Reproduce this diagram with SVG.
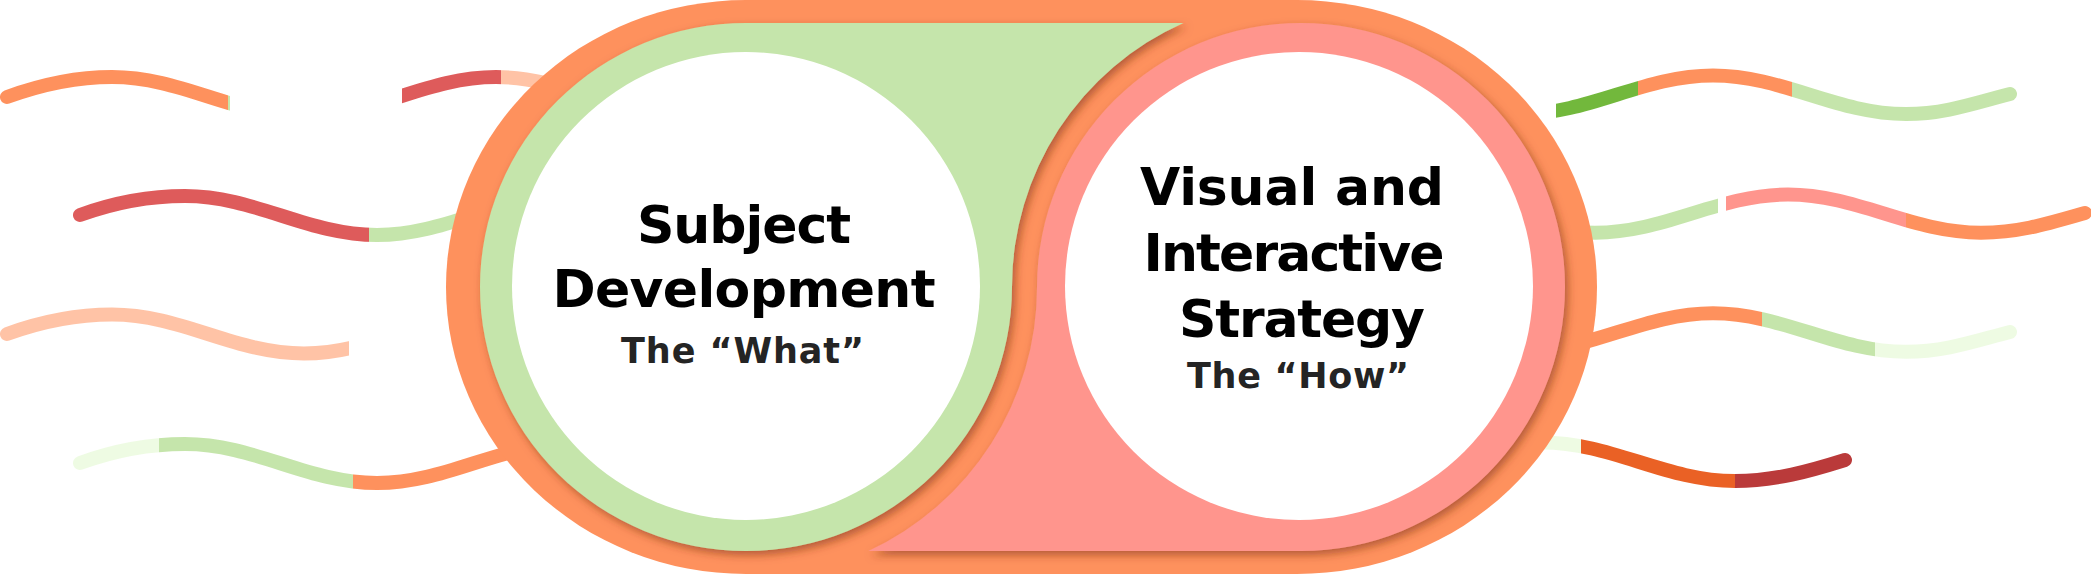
<svg xmlns="http://www.w3.org/2000/svg" width="2091" height="582" viewBox="0 0 2091 582">
<style>
.wave{fill:none;stroke-width:14;stroke-linecap:round}
.frame{fill:#FE915D}
.green{fill:#C5E5AB}
.pink{fill:#FF958D}
.hole{fill:#FFFFFF}
.t{font-family:"DejaVu Sans","Liberation Sans",sans-serif;font-weight:bold;text-anchor:middle;fill:#000}
.big{font-size:52px}
.sub{font-size:35px;fill:#242424}
</style>
<defs>
<filter id="sh" x="-10%" y="-10%" width="125%" height="125%">
<feDropShadow dx="3" dy="4" stdDeviation="4" flood-color="#7a3315" flood-opacity="0.55"/>
</filter>
<linearGradient id="gL1" gradientUnits="userSpaceOnUse" x1="0" y1="0" x2="2000" y2="0">
<stop offset="0" stop-color="#FE915D"/><stop offset="0.11385" stop-color="#FE915D"/>
<stop offset="0.11385" stop-color="#C5E5AB"/><stop offset="0.11495" stop-color="#C5E5AB"/>
<stop offset="0.11495" stop-color="#fff" stop-opacity="0"/><stop offset="0.2009" stop-color="#fff" stop-opacity="0"/>
<stop offset="0.2009" stop-color="#DE5B5B"/><stop offset="0.25045" stop-color="#DE5B5B"/>
<stop offset="0.25045" stop-color="#FFC3A6"/><stop offset="1" stop-color="#FFC3A6"/>
</linearGradient>
<linearGradient id="gL2" gradientUnits="userSpaceOnUse" x1="0" y1="0" x2="2000" y2="0">
<stop offset="0" stop-color="#DE5B5B"/><stop offset="0.1845" stop-color="#DE5B5B"/>
<stop offset="0.1845" stop-color="#C5E5AB"/><stop offset="1" stop-color="#C5E5AB"/>
</linearGradient>
<linearGradient id="gL3" gradientUnits="userSpaceOnUse" x1="0" y1="0" x2="2000" y2="0">
<stop offset="0" stop-color="#FFC3A6"/><stop offset="0.1745" stop-color="#FFC3A6"/>
<stop offset="0.1745" stop-color="#fff" stop-opacity="0"/><stop offset="1" stop-color="#fff" stop-opacity="0"/>
</linearGradient>
<linearGradient id="gL4" gradientUnits="userSpaceOnUse" x1="0" y1="0" x2="2000" y2="0">
<stop offset="0" stop-color="#EEFBE3"/><stop offset="0.07925" stop-color="#EEFBE3"/>
<stop offset="0.07925" stop-color="#C5E5AB"/><stop offset="0.17635" stop-color="#C5E5AB"/>
<stop offset="0.17635" stop-color="#FE915D"/><stop offset="1" stop-color="#FE915D"/>
</linearGradient>
<linearGradient id="gR1" gradientUnits="userSpaceOnUse" x1="0" y1="0" x2="2000" y2="0">
<stop offset="0" stop-color="#fff" stop-opacity="0"/><stop offset="0.77825" stop-color="#fff" stop-opacity="0"/>
<stop offset="0.77825" stop-color="#72B83C"/><stop offset="0.819" stop-color="#72B83C"/>
<stop offset="0.819" stop-color="#FE915D"/><stop offset="0.896" stop-color="#FE915D"/>
<stop offset="0.896" stop-color="#C5E5AB"/><stop offset="1" stop-color="#C5E5AB"/>
</linearGradient>
<linearGradient id="gR2" gradientUnits="userSpaceOnUse" x1="0" y1="0" x2="2000" y2="0">
<stop offset="0" stop-color="#C5E5AB"/><stop offset="0.859" stop-color="#C5E5AB"/>
<stop offset="0.859" stop-color="#fff" stop-opacity="0"/><stop offset="0.863" stop-color="#fff" stop-opacity="0"/>
<stop offset="0.863" stop-color="#FF958D"/><stop offset="0.953" stop-color="#FF958D"/>
<stop offset="0.953" stop-color="#FE915D"/><stop offset="1" stop-color="#FE915D"/>
</linearGradient>
<linearGradient id="gR3" gradientUnits="userSpaceOnUse" x1="0" y1="0" x2="2000" y2="0">
<stop offset="0" stop-color="#FE915D"/><stop offset="0.881" stop-color="#FE915D"/>
<stop offset="0.881" stop-color="#C5E5AB"/><stop offset="0.9375" stop-color="#C5E5AB"/>
<stop offset="0.9375" stop-color="#EEFBE3"/><stop offset="1" stop-color="#EEFBE3"/>
</linearGradient>
<linearGradient id="gR4" gradientUnits="userSpaceOnUse" x1="0" y1="0" x2="2000" y2="0">
<stop offset="0" stop-color="#EEFBE3"/><stop offset="0.7905" stop-color="#EEFBE3"/>
<stop offset="0.7905" stop-color="#EA6125"/><stop offset="0.8675" stop-color="#EA6125"/>
<stop offset="0.8675" stop-color="#BA3A3A"/><stop offset="1" stop-color="#BA3A3A"/>
</linearGradient>
</defs>

<g id="connectors">
<path class="wave" stroke="url(#gL1)" d="M 7 97 C 40 85, 75 77, 112 77 C 182 77, 234 116, 304 116 C 374 116, 426 77, 496 77 C 566 77, 618 116, 688 116"/>
<path class="wave" stroke="url(#gL2)" d="M 80 215 C 113 203, 148 196, 185 196 C 255 196, 307 235, 377 235 C 447 235, 499 196, 569 196"/>
<path class="wave" stroke="url(#gL3)" d="M 7 334 C 40 322, 75 314.5, 112 314.5 C 182 314.5, 234 353.5, 304 353.5 C 374 353.5, 426 314.5, 496 314.5"/>
<path class="wave" stroke="url(#gL4)" d="M 80 463 C 113 451, 148 444, 185 444 C 255 444, 307 483, 377 483 C 447 483, 499 444, 569 444"/>
<path class="wave" stroke="url(#gR1)" d="M 1520 114 C 1590 114, 1643 75.5, 1713 75.5 C 1783 75.5, 1836 114, 1906 114 C 1945 114, 1975 103, 2010 94"/>
<path class="wave" stroke="url(#gR2)" d="M 1402 194.5 C 1472 194.5, 1525 232.7, 1595 232.7 C 1665 232.7, 1718 194.5, 1788 194.5 C 1858 194.5, 1911 232.7, 1981 232.7 C 2020 232.7, 2050 223, 2085 213"/>
<path class="wave" stroke="url(#gR3)" d="M 1520 351.8 C 1590 351.8, 1643 313.3, 1713 313.3 C 1783 313.3, 1836 351.8, 1906 351.8 C 1945 351.8, 1975 341, 2010 332"/>
<path class="wave" stroke="url(#gR4)" d="M 1349 481 C 1419 481, 1472 442.5, 1542 442.5 C 1612 442.5, 1665 481, 1735 481 C 1775 481, 1810 471, 1845 460"/>
</g>

<g id="frame">
<rect class="frame" x="446" y="0" width="1151" height="574" rx="300" ry="287"/>
</g>

<g id="node-how">
<path class="pink" filter="url(#sh)" d="M 1301 23 A 264 264 0 0 1 1301 551 H 868.4 A 291 291 0 0 0 1037 287 A 264 264 0 0 1 1301 23 Z"/>
<circle class="hole" cx="1299" cy="286" r="234"/>
<text class="t big" x="1292" y="205" textLength="304" lengthAdjust="spacing">Visual and</text>
<text class="t big" x="1294" y="271" textLength="301" lengthAdjust="spacing">Interactive</text>
<text class="t big" x="1302" y="337" textLength="246" lengthAdjust="spacing">Strategy</text>
<text class="t sub" x="1298" y="388" textLength="222" lengthAdjust="spacing">The “How”</text>
</g>

<g id="node-what">
<path class="green" filter="url(#sh)" d="M 746 23 H 1183.4 A 289 289 0 0 0 1012 287 A 266 264 0 0 1 746 551 A 266 264 0 0 1 746 23 Z"/>
<circle class="hole" cx="746" cy="286" r="234"/>
<text class="t big" x="744" y="243" textLength="214" lengthAdjust="spacing">Subject</text>
<text class="t big" x="744" y="307" textLength="383" lengthAdjust="spacing">Development</text>
<text class="t sub" x="742.5" y="363" textLength="243" lengthAdjust="spacing">The “What”</text>
</g>
</svg>
